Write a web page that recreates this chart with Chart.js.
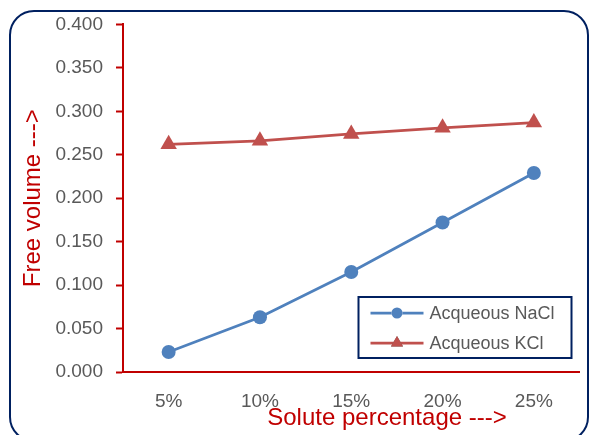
<!DOCTYPE html>
<html>
<head>
<meta charset="utf-8">
<script src="https://cdn.jsdelivr.net/npm/chart.js@4.4.1/dist/chart.umd.min.js"></script>
<style>
  html, body { margin: 0; padding: 0; background: #ffffff; }
  #wrap { width: 589px; height: 435px; position: relative; }
</style>
</head>
<body>
<div id="wrap"><canvas id="c" width="589" height="435"></canvas></div>
<script>
// Solute concentrations (categories)
const soluteLabels = ['5%', '10%', '15%', '20%', '25%'];
// Free volume of the aqueous solutions
const naclValues = [0.023, 0.063, 0.115, 0.172, 0.229];
const kclValues  = [0.262, 0.266, 0.274, 0.281, 0.287];
// Series names
const seriesNames = ['Acqueous NaCl', 'Acqueous KCl'];
// Axis titles
const xTitle = 'Solute percentage --->';
const yTitle = 'Free volume --->';

const RED = '#c00000';
const NAVY = '#002060';
const BLUE = '#4f81bd';
const BRICK = '#c0504d';
const GREY = '#595959';
const FONT = '"Liberation Sans", Arial, sans-serif';

// Rounded frame around the whole chart
const framePlugin = {
  id: 'frame',
  beforeDraw(chart) {
    const ctx = chart.ctx;
    ctx.save();
    ctx.fillStyle = '#ffffff';
    ctx.fillRect(0, 0, chart.width, chart.height);
    const x = 10, y = 11, w = 578, h = 430, r = 24;
    ctx.beginPath();
    ctx.moveTo(x + r, y);
    ctx.lineTo(x + w - r, y);
    ctx.arcTo(x + w, y, x + w, y + r, r);
    ctx.lineTo(x + w, y + h - r);
    ctx.arcTo(x + w, y + h, x + w - r, y + h, r);
    ctx.lineTo(x + r, y + h);
    ctx.arcTo(x, y + h, x, y + h - r, r);
    ctx.lineTo(x, y + r);
    ctx.arcTo(x, y, x + r, y, r);
    ctx.closePath();
    ctx.strokeStyle = NAVY;
    ctx.lineWidth = 2;
    ctx.stroke();
    ctx.restore();
  }
};

// Axis titles and a boxed legend inside the plot area
const annotPlugin = {
  id: 'annot',
  afterDraw(chart) {
    const ctx = chart.ctx;
    const a = chart.chartArea;
    ctx.save();
    // axis titles
    ctx.fillStyle = RED;
    ctx.font = '24px ' + FONT;
    ctx.textAlign = 'center';
    ctx.textBaseline = 'alphabetic';
    ctx.fillText(xTitle, a.left + 264, a.bottom + 53);
    ctx.save();
    ctx.translate(40, (a.top + a.bottom) / 2);
    ctx.rotate(-Math.PI / 2);
    ctx.fillText(yTitle, 0, 0);
    ctx.restore();

    // legend box
    const bx = a.right - 221, by = a.bottom - 75, bw = 213, bh = 61;
    ctx.fillStyle = '#ffffff';
    ctx.fillRect(bx, by, bw, bh);
    ctx.strokeStyle = NAVY;
    ctx.lineWidth = 2;
    ctx.strokeRect(bx, by, bw, bh);
    chart.data.datasets.forEach((ds, i) => {
      const cy = by + 16 + i * 30;
      const x0 = bx + 12, x1 = bx + 65, mx = (x0 + x1) / 2;
      ctx.strokeStyle = ds.borderColor;
      ctx.lineWidth = 2.75;
      ctx.beginPath();
      ctx.moveTo(x0, cy);
      ctx.lineTo(x1, cy);
      ctx.stroke();
      Chart.helpers.drawPoint(ctx, {
        pointStyle: ds.pointStyle,
        radius: ds.pointStyle === 'triangle' ? 7 : 5.5,
        rotation: 0,
        borderWidth: 0
      }, mx, cy);
      ctx.fillStyle = ds.pointBackgroundColor;
      ctx.fill();
      ctx.fillStyle = GREY;
      ctx.font = '18px ' + FONT;
      ctx.textAlign = 'left';
      ctx.textBaseline = 'middle';
      ctx.fillText(ds.label, bx + 71, cy + 1);
    });
    ctx.restore();
  }
};

new Chart(document.getElementById('c'), {
  type: 'line',
  data: {
    labels: soluteLabels,
    datasets: [
      {
        label: seriesNames[0],
        data: naclValues,
        borderColor: BLUE,
        backgroundColor: BLUE,
        pointBackgroundColor: BLUE,
        pointBorderColor: BLUE,
        pointStyle: 'circle',
        pointRadius: 7,
        pointBorderWidth: 0,
        borderWidth: 2.75,
        tension: 0
      },
      {
        label: seriesNames[1],
        data: kclValues,
        borderColor: BRICK,
        backgroundColor: BRICK,
        pointBackgroundColor: BRICK,
        pointBorderColor: BRICK,
        pointStyle: 'triangle',
        pointRadius: 9.5,
        pointBorderWidth: 0,
        borderWidth: 2.75,
        tension: 0
      }
    ]
  },
  options: {
    responsive: false,
    animation: false,
    layout: { padding: { left: 0, top: 24, right: 6, bottom: 0 } },
    plugins: {
      legend: { display: false },
      tooltip: { enabled: false }
    },
    scales: {
      x: {
        offset: true,
        grid: { display: false, drawTicks: false },
        border: { display: true, color: RED, width: 2 },
        ticks: { color: GREY, font: { family: FONT, size: 19 }, padding: 18, maxRotation: 0 },
        afterFit(scale) { scale.height = 63; }
      },
      y: {
        min: 0,
        max: 0.4,
        grid: { drawOnChartArea: false, drawTicks: true, tickLength: 7, tickColor: RED, tickWidth: 2 },
        border: { display: true, color: RED, width: 2 },
        ticks: {
          stepSize: 0.05,
          color: GREY,
          font: { family: FONT, size: 19 },
          padding: 13,
          callback: v => Number(v).toFixed(3)
        },
        afterFit(scale) { scale.width = 123; }
      }
    }
  },
  plugins: [framePlugin, annotPlugin]
});
</script>
</body>
</html>
